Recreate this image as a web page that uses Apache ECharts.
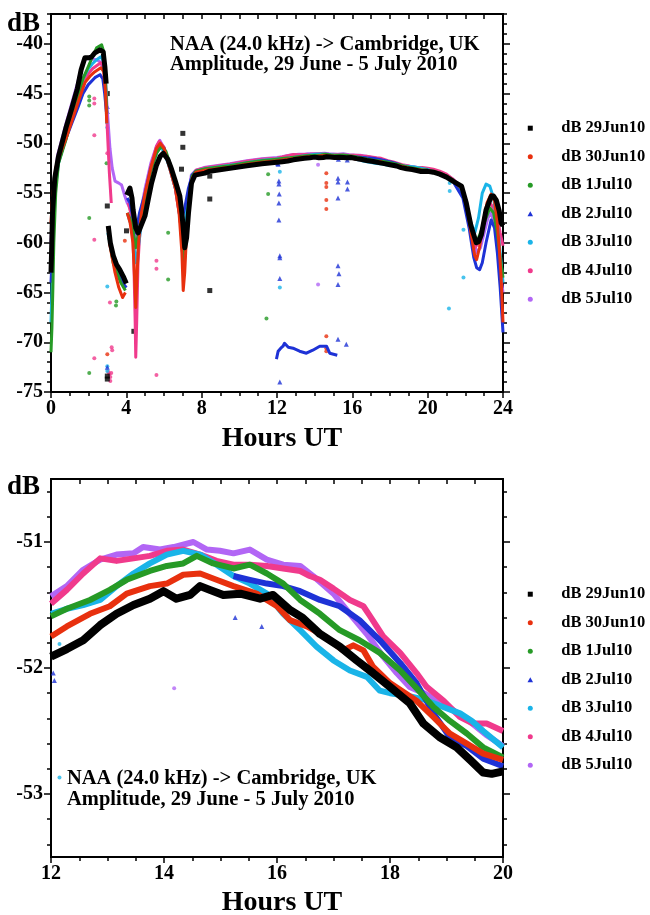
<!DOCTYPE html>
<html><head><meta charset="utf-8">
<script src="https://cdn.jsdelivr.net/npm/echarts@6/dist/echarts.min.js"></script>
<style>html,body{margin:0;padding:0;background:#fff}#c{width:650px;height:915px}</style>
</head><body><div id="c"></div>
<script>
// ---------- names / colours ----------
const names = ['dB 29Jun10','dB 30Jun10','dB 1Jul10','dB 2Jul10','dB 3Jul10','dB 4Jul10','dB 5Jul10'];
const colors = ['#000000','#e8300e','#269a26','#1e32d6','#1ab4e8','#f03a8c','#b266f5'];

// ---------- tick labels ----------
const xTicksTopMajor = [0,4,8,12,16,20,24];
const yTicksTopMajor = [-75,-70,-65,-60,-55,-50,-45,-40];
const xTicksBotMajor = [12,14,16,18,20];
const yTicksBotMajor = [-53,-52,-51];

// ---------- 29 Jun (black) ----------
const jun29Early = [[0.0,-63.0],[0.03,-61.0],[0.08,-57.0],[0.2,-53.5],[0.39,-51.4],[0.8,-48.4],[1.1,-46.5],[1.4,-44.5],[1.6,-42.6],[1.8,-41.4],[2.0,-41.4],[2.16,-41.3],[2.33,-40.9],[2.6,-40.6],[2.77,-40.8],[2.86,-42.3],[2.93,-44.0],[2.98,null],[3.04,-58.3],[3.15,-60.0],[3.31,-61.3],[3.48,-62.2],[3.65,-62.7],[3.84,-63.4],[4.0,-64.1],[4.01,null],[4.02,-55.2],[4.19,-54.5],[4.3,-55.5],[4.36,-56.7],[4.5,-58.5],[4.63,-59.0],[4.8,-58.2],[4.99,-57.3],[5.2,-55.3],[5.34,-54.0],[5.6,-52.2],[5.8,-51.3],[5.96,-51.0],[6.2,-51.6],[6.4,-52.6],[6.6,-53.8],[6.84,-55.3],[6.95,-57.0],[7.02,-58.5],[7.1,-60.5],[7.2,-59.5],[7.3,-57.0],[7.46,-54.0],[7.64,-53.2],[8.17,-53.0],[8.43,-52.8],[9.5,-52.5],[10.4,-52.25],[11.2,-52.05]];
const jun29Mid = [[12.0,-51.91],[12.28,-51.85],[12.57,-51.78],[12.87,-51.66],[13.16,-51.57],[13.46,-51.5],[13.75,-51.45],[13.99,-51.39],[14.22,-51.45],[14.46,-51.42],[14.64,-51.35],[14.81,-51.38],[15.05,-51.42],[15.35,-51.41],[15.7,-51.45],[15.93,-51.42],[16.23,-51.54],[16.45,-51.6],[16.76,-51.73],[17.11,-51.83],[17.41,-51.94],[17.7,-52.04],[18.0,-52.15],[18.35,-52.28],[18.59,-52.44],[18.88,-52.55],[19.18,-52.63],[19.42,-52.73],[19.65,-52.83],[19.8,-52.84],[20.0,-52.82]];
const jun29Late = [[20.3,-52.9],[20.64,-53.1],[21.0,-53.4],[21.34,-53.8],[21.8,-54.3],[22.05,-56.0],[22.3,-58.3],[22.58,-60.0],[22.7,-59.9],[22.85,-59.2],[23.1,-56.7],[23.38,-55.3],[23.5,-55.3],[23.64,-55.7],[23.8,-56.8],[23.9,-58.0],[24.0,-58.3]];
const jun29Odd = [[2.99,-45.0],[2.99,-56.3],[2.99,-73.4],[2.99,-73.7],[4.01,-58.8],[4.4,-68.9],[7.0,-49.0],[7.0,-50.4],[6.93,-52.6],[8.43,-53.3],[8.43,-55.6],[8.43,-64.8]];

// ---------- 30 Jun (red) ----------
const jun30Early = [[0.0,-58.0],[0.08,-55.5],[0.25,-52.5],[0.5,-51.0],[0.8,-49.5],[1.1,-47.8],[1.45,-45.8],[1.8,-43.9],[2.1,-43.2],[2.33,-42.8],[2.65,-42.4],[2.8,-42.8],[2.9,-45.0],[2.96,-48.0],[3.0,null],[3.1,-60.0],[3.4,-63.0],[3.6,-64.5],[3.8,-65.5],[3.95,-65.0],[4.0,null],[4.05,-57.0],[4.2,-58.0],[4.35,-60.0],[4.45,-64.0],[4.5,-66.5],[4.55,-64.0],[4.65,-60.0],[4.8,-57.0],[5.0,-55.0],[5.3,-52.5],[5.6,-50.5],[5.8,-50.0],[6.0,-50.5],[6.3,-52.5],[6.6,-54.5],[6.8,-57.0],[6.95,-61.0],[7.02,-64.8],[7.1,-63.0],[7.2,-59.0],[7.35,-55.5],[7.5,-53.5],[7.7,-52.9],[8.2,-52.7],[9.5,-52.4],[10.4,-52.1],[11.2,-51.9]];
const jun30Mid = [[12.0,-51.75],[12.28,-51.67],[12.69,-51.57],[13.04,-51.51],[13.34,-51.41],[13.75,-51.35],[14.05,-51.33],[14.34,-51.26],[14.64,-51.25],[14.93,-51.3],[15.23,-51.35],[15.64,-51.41],[16.0,-51.51],[16.23,-51.62],[16.53,-51.67],[16.85,-51.75],[17.17,-51.86],[17.35,-51.82],[17.53,-51.86],[17.7,-51.99],[18.0,-52.12],[18.47,-52.26],[18.77,-52.39],[19.06,-52.52],[19.36,-52.6],[19.65,-52.68],[20.0,-52.73]];
const jun30Late = [[20.3,-52.85],[20.64,-53.0],[21.0,-53.3],[21.34,-53.7],[21.8,-54.5],[22.05,-56.0],[22.3,-59.0],[22.5,-61.3],[22.6,-61.7],[22.75,-60.5],[22.95,-58.0],[23.15,-56.0],[23.37,-55.1],[23.55,-55.8],[23.7,-58.0],[23.8,-60.5],[23.9,-63.5],[24.0,-68.0]];
const jun30Odd = [[2.99,-71.2],[3.92,-59.8],[14.62,-53.0],[14.62,-54.0],[14.62,-54.4],[14.62,-55.7],[14.62,-56.6],[14.62,-69.4],[14.62,-70.6],[14.62,-70.9]];

// ---------- 1 Jul (green) ----------
const jul1Early = [[0.0,-71.0],[0.05,-68.5],[0.1,-64.5],[0.15,-60.0],[0.25,-55.0],[0.4,-52.0],[0.8,-49.6],[1.1,-47.5],[1.45,-45.3],[1.7,-43.5],[1.98,-42.3],[2.2,-41.3],[2.42,-40.4],[2.69,-40.1],[2.8,-40.8],[2.9,-44.0],[2.96,-47.0],[3.0,null],[3.08,-59.5],[3.3,-62.0],[3.5,-63.0],[3.7,-64.0],[3.95,-64.8],[4.0,null],[4.05,-57.0],[4.3,-58.0],[4.5,-60.5],[4.7,-58.5],[5.0,-55.5],[5.3,-52.8],[5.6,-51.0],[5.85,-50.3],[6.1,-50.8],[6.4,-52.5],[6.7,-55.0],[6.9,-58.5],[7.05,-63.0],[7.15,-60.0],[7.3,-56.0],[7.5,-53.3],[7.7,-52.8],[8.2,-52.55],[9.5,-52.25],[10.4,-51.95],[11.2,-51.75]];
const jul1Mid = [[12.0,-51.59],[12.28,-51.53],[12.69,-51.46],[13.04,-51.38],[13.34,-51.3],[13.75,-51.23],[14.05,-51.19],[14.34,-51.17],[14.58,-51.11],[14.87,-51.17],[15.23,-51.21],[15.52,-51.18],[15.82,-51.25],[16.11,-51.33],[16.41,-51.46],[16.76,-51.57],[17.11,-51.7],[17.46,-51.78],[17.82,-51.88],[18.18,-52.02],[18.47,-52.16],[18.77,-52.31],[19.06,-52.42],[19.36,-52.52],[19.65,-52.63],[20.0,-52.71]];
const jul1Late = [[20.3,-52.8],[20.64,-53.0],[21.0,-53.3],[21.34,-53.7],[21.8,-54.5],[22.05,-55.8],[22.3,-58.5],[22.5,-60.0],[22.7,-59.5],[22.9,-58.5],[23.1,-57.5],[23.3,-56.5],[23.5,-57.0],[23.7,-59.0],[23.85,-61.5],[24.0,-63.5]];
const jul1Odd = [[2.03,-45.3],[2.03,-45.7],[2.03,-46.2],[2.03,-57.5],[2.03,-73.1],[2.95,-52.0],[3.47,-65.9],[3.45,-66.3],[6.22,-59.0],[6.22,-63.7],[11.44,-67.6],[11.53,-53.1],[11.53,-55.1]];

// ---------- 2 Jul (blue) ----------
const jul2Early = [[0.0,-64.0],[0.05,-62.0],[0.1,-58.0],[0.2,-54.0],[0.4,-51.8],[0.8,-49.5],[1.1,-48.0],[1.45,-46.3],[1.7,-45.0],[1.98,-44.1],[2.33,-43.4],[2.6,-43.1],[2.75,-43.5],[2.85,-45.0],[2.95,-47.0],[3.0,null],[3.1,-60.0],[3.4,-62.0],[3.6,-63.0],[3.8,-64.0],[4.0,-64.5],[4.01,null],[4.05,-55.5],[4.2,-56.0],[4.4,-58.0],[4.5,-59.0],[4.7,-57.0],[5.0,-55.0],[5.3,-52.5],[5.6,-50.8],[5.8,-50.2],[6.0,-50.5],[6.3,-52.2],[6.6,-54.0],[6.85,-56.0],[7.0,-57.2],[7.1,-56.5],[7.3,-54.5],[7.5,-53.2],[7.7,-52.8],[8.2,-52.6],[9.5,-52.3],[10.4,-52.0],[11.2,-51.8],[11.9,-51.95],[11.94,null],[11.97,-71.7],[12.06,-70.9],[12.2,-70.6],[12.32,-70.4],[12.4,-70.1],[12.6,-70.5],[12.85,-70.6],[13.2,-70.9],[13.56,-71.1],[13.9,-70.8],[14.27,-70.4],[14.63,-70.4],[14.8,-71.1],[15.0,-71.2],[15.2,-71.3],[15.21,null]];
const jul2Mid = [[15.23,-51.27],[15.52,-51.3],[15.82,-51.33],[16.11,-51.35],[16.41,-51.39],[16.76,-51.46],[17.11,-51.51],[17.46,-51.62],[17.82,-51.78],[18.18,-51.96],[18.47,-52.12],[18.77,-52.36],[19.06,-52.55],[19.36,-52.62],[19.65,-52.72],[20.0,-52.78]];
const jul2Late = [[20.3,-52.85],[20.64,-53.05],[21.0,-53.4],[21.34,-53.8],[21.87,-55.5],[22.2,-58.5],[22.45,-61.5],[22.6,-62.5],[22.76,-62.7],[22.9,-62.0],[23.1,-60.0],[23.37,-57.7],[23.55,-58.5],[23.7,-61.0],[23.85,-64.5],[24.0,-69.0]];
const jul2Odd = [[2.99,-46.3],[2.99,-46.8],[2.99,-72.5],[12.04,-52.04],[12.06,-52.1],[12.1,-53.8],[12.1,-54.1],[12.12,-55.1],[12.1,-56.0],[12.1,-57.7],[12.15,-61.3],[12.15,-61.5],[12.15,-63.6],[12.15,-74.0],[15.24,-53.5],[15.24,-53.9],[15.74,-53.9],[15.74,-54.6],[15.24,-55.5],[15.24,-62.3],[15.29,-63.1],[15.24,-64.2],[15.24,-69.7],[15.68,-70.2],[15.26,-51.6],[15.73,-51.67]];

// ---------- 3 Jul (cyan) ----------
const jul3Early = [[0.0,-68.0],[0.05,-65.0],[0.1,-60.0],[0.2,-55.0],[0.4,-52.0],[0.8,-49.3],[1.1,-47.2],[1.45,-45.0],[1.7,-43.5],[1.98,-42.5],[2.2,-42.0],[2.42,-41.6],[2.65,-41.3],[2.8,-41.8],[2.9,-44.0],[2.96,-48.0],[3.0,null],[3.02,-59.0],[3.3,-61.5],[3.6,-62.8],[3.9,-64.0],[4.0,null],[4.05,-57.0],[4.3,-58.5],[4.5,-62.0],[4.6,-61.0],[4.8,-58.0],[5.0,-55.5],[5.3,-52.8],[5.6,-51.0],[5.8,-50.4],[6.0,-50.8],[6.3,-52.5],[6.6,-54.5],[6.85,-57.0],[7.0,-60.0],[7.1,-58.5],[7.3,-55.0],[7.5,-53.2],[7.7,-52.8],[8.2,-52.55],[9.5,-52.2],[10.4,-51.95],[11.2,-51.7]];
const jul3Mid = [[12.0,-51.57],[12.28,-51.53],[12.57,-51.5],[12.87,-51.46],[13.16,-51.35],[13.46,-51.25],[13.75,-51.17],[14.05,-51.1],[14.34,-51.07],[14.64,-51.1],[14.93,-51.18],[15.23,-51.27],[15.52,-51.33],[15.82,-51.41],[16.11,-51.57],[16.41,-51.7],[16.7,-51.83],[17.0,-51.94],[17.29,-52.02],[17.59,-52.07],[17.82,-52.18],[18.0,-52.2],[18.3,-52.22],[18.6,-52.25],[19.0,-52.32],[19.24,-52.36],[19.45,-52.42],[19.65,-52.5],[20.0,-52.63]];
const jul3Late = [[20.3,-52.85],[20.64,-53.0],[21.0,-53.3],[21.34,-53.7],[21.87,-55.0],[22.1,-56.5],[22.3,-58.0],[22.5,-59.0],[22.7,-57.5],[22.9,-55.0],[23.1,-54.1],[23.3,-54.3],[23.5,-55.5],[23.7,-58.0],[23.85,-61.0],[24.0,-64.0]];
const jul3Odd = [[2.99,-48.4],[2.99,-64.4],[2.99,-72.4],[2.99,-72.9],[12.15,-52.87],[12.15,-51.81],[12.15,-64.5],[21.17,-54.0],[21.17,-54.8],[21.13,-66.6],[21.9,-58.7],[21.9,-63.5]];

// ---------- 4 Jul (pink) ----------
const jul4Early = [[0.0,-62.0],[0.05,-60.0],[0.15,-55.0],[0.35,-52.0],[0.8,-49.3],[1.1,-47.3],[1.45,-45.5],[1.7,-44.2],[1.98,-43.0],[2.2,-42.5],[2.42,-42.2],[2.65,-41.9],[2.8,-42.3],[2.9,-44.5],[3.0,-49.0],[3.1,-53.0],[3.2,-56.0],[3.25,null],[4.1,-56.0],[4.3,-57.5],[4.4,-62.0],[4.47,-68.0],[4.5,-71.5],[4.55,-68.0],[4.62,-62.0],[4.75,-58.0],[5.0,-55.0],[5.3,-52.3],[5.6,-50.3],[5.75,-49.8],[6.0,-50.4],[6.3,-52.3],[6.6,-54.5],[6.85,-57.5],[7.0,-61.0],[7.05,-62.5],[7.15,-60.0],[7.3,-55.8],[7.5,-53.2],[7.7,-52.7],[8.2,-52.45],[9.5,-52.1],[10.4,-51.8],[11.2,-51.6]];
const jul4Mid = [[12.0,-51.49],[12.28,-51.38],[12.57,-51.25],[12.87,-51.13],[13.16,-51.15],[13.46,-51.13],[13.75,-51.11],[14.05,-51.07],[14.34,-51.06],[14.64,-51.1],[14.93,-51.15],[15.23,-51.18],[15.52,-51.18],[15.82,-51.19],[16.11,-51.21],[16.41,-51.23],[16.58,-51.27],[16.76,-51.3],[17.0,-51.37],[17.29,-51.46],[17.53,-51.51],[17.65,-51.59],[17.88,-51.75],[18.18,-51.88],[18.47,-52.04],[18.65,-52.15],[18.95,-52.26],[19.24,-52.39],[19.47,-52.44],[19.71,-52.44],[20.0,-52.5]];
const jul4Late = [[20.3,-52.6],[20.64,-52.8],[21.0,-53.1],[21.34,-53.6],[21.8,-54.5],[22.05,-56.0],[22.3,-58.5],[22.5,-60.5],[22.7,-60.0],[22.9,-58.5],[23.1,-57.0],[23.3,-56.0],[23.5,-56.5],[23.7,-57.5],[23.85,-59.0],[24.0,-60.3]];
const jul4Odd = [[2.3,-45.5],[2.3,-46.0],[2.3,-49.2],[2.3,-59.7],[2.3,-71.6],[2.99,-51.0],[3.13,-66.0],[3.22,-70.5],[3.25,-70.8],[3.05,-73.0],[3.1,-73.2],[3.15,-73.5],[3.2,-73.1],[3.15,-73.9],[5.6,-61.8],[5.6,-62.6],[5.6,-73.3]];

// ---------- 5 Jul (purple) ----------
const jul5Early = [[0.0,-60.0],[0.05,-58.0],[0.15,-54.5],[0.35,-51.2],[0.8,-48.0],[1.1,-46.0],[1.4,-44.0],[1.6,-42.5],[1.8,-41.5],[2.1,-41.5],[2.4,-41.6],[2.6,-41.8],[2.8,-42.5],[2.9,-44.0],[3.0,-47.0],[3.13,-50.5],[3.25,-52.5],[3.4,-53.8],[3.6,-54.0],[3.75,-54.2],[3.92,-55.3],[4.05,-56.0],[4.2,-56.5],[4.4,-58.5],[4.5,-60.0],[4.6,-59.0],[4.8,-56.5],[5.0,-54.5],[5.3,-52.0],[5.6,-50.3],[5.78,-49.7],[6.0,-50.5],[6.3,-52.5],[6.6,-54.5],[6.85,-57.5],[7.0,-60.5],[7.1,-59.5],[7.25,-56.0],[7.45,-53.2],[7.7,-52.7],[8.2,-52.4],[9.5,-52.05],[10.4,-51.75],[11.2,-51.55]];
const jul5Mid = [[12.0,-51.43],[12.28,-51.35],[12.57,-51.22],[12.87,-51.14],[13.16,-51.1],[13.46,-51.09],[13.63,-51.04],[13.93,-51.06],[14.17,-51.04],[14.52,-51.0],[14.76,-51.06],[14.99,-51.07],[15.23,-51.09],[15.52,-51.06],[15.82,-51.14],[16.11,-51.18],[16.41,-51.19],[16.64,-51.27],[17.0,-51.41],[17.29,-51.57],[17.59,-51.73],[17.88,-51.91],[18.12,-52.04],[18.35,-52.15],[18.6,-52.2],[19.0,-52.3],[19.4,-52.42],[19.7,-52.53],[20.0,-52.62]];
const jul5Late = [[20.3,-52.7],[20.64,-52.9],[21.0,-53.2],[21.34,-53.6],[21.8,-54.5],[22.05,-56.0],[22.3,-58.5],[22.6,-61.0],[22.8,-60.5],[23.0,-59.0],[23.2,-57.5],[23.35,-57.0],[23.55,-58.0],[23.7,-60.0],[23.85,-63.0],[24.0,-65.0]];
const jul5Odd = [[0.04,-60.0],[14.18,-52.16],[14.18,-64.2]];

// ---------- assemble ----------
const early = [jun29Early, jun30Early, jul1Early, jul2Early, jul3Early, jul4Early, jul5Early];
const mid   = [jun29Mid, jun30Mid, jul1Mid, jul2Mid, jul3Mid, jul4Mid, jul5Mid];
const late  = [jun29Late, jun30Late, jul1Late, jul2Late, jul3Late, jul4Late, jul5Late];
const odd   = [jun29Odd, jun30Odd, jul1Odd, jul2Odd, jul3Odd, jul4Odd, jul5Odd];

const FONT = 'Liberation Serif';
const SQ = 'path://M0,0L10,0L10,10L0,10Z';
const TRI = 'path://M5,0L10,9L0,9Z';
const CIR = 'circle';
const symbols = [SQ, CIR, CIR, TRI, CIR, CIR, CIR];
const oddSize = [5, 4, 4, 5, 4, 4, 4];

const xMinorTop = []; for (let h = 0; h <= 24; h++) xMinorTop.push(h);
const yMinorTop = []; for (let v = -75; v <= -37; v++) yMinorTop.push(v);
const xMinorBot = []; for (let h = 12; h <= 20.001; h += 0.5) xMinorBot.push(+h.toFixed(1));
const yMinorBot = []; for (let v = -53.4; v <= -50.55; v += 0.2) yMinorBot.push(+v.toFixed(1));

const lab = {fontFamily: FONT, fontWeight: 'bold', fontSize: 20, color: '#000'};
const axLine = {show: true, onZero: false, lineStyle: {color: '#000', width: 2}};
function ax(o) {
  return Object.assign({type: 'value', splitLine: {show: false}, axisLine: axLine}, o);
}
function tick(vals, len, inside) {
  return {show: true, customValues: vals, length: len, inside: !!inside, lineStyle: {color: '#000', width: 1.5}};
}
const noLab = {show: false};

const xAxis = [
  ax({gridIndex: 0, min: 0, max: 24, position: 'bottom', axisTick: tick(xTicksTopMajor, 6), axisLabel: Object.assign({customValues: xTicksTopMajor, margin: 7}, lab)}),
  ax({gridIndex: 0, min: 0, max: 24, position: 'bottom', axisTick: tick(xMinorTop, 4), axisLabel: noLab}),
  ax({gridIndex: 0, min: 0, max: 24, position: 'top', axisTick: tick(xMinorTop, 5, true), axisLabel: noLab}),
  ax({gridIndex: 1, min: 12, max: 20, position: 'bottom', axisTick: tick(xTicksBotMajor, 6), axisLabel: Object.assign({customValues: xTicksBotMajor, margin: 7}, lab)}),
  ax({gridIndex: 1, min: 12, max: 20, position: 'bottom', axisTick: tick(xMinorBot, 4), axisLabel: noLab}),
  ax({gridIndex: 1, min: 12, max: 20, position: 'top', axisTick: tick(xMinorBot, 5, true), axisLabel: noLab})
];
const yAxis = [
  ax({gridIndex: 0, min: -75, max: -37, position: 'left', axisTick: tick(yTicksTopMajor, 7), axisLabel: Object.assign({customValues: yTicksTopMajor, margin: 8}, lab)}),
  ax({gridIndex: 0, min: -75, max: -37, position: 'left', axisTick: tick(yMinorTop, 4), axisLabel: noLab}),
  ax({gridIndex: 0, min: -75, max: -37, position: 'right', axisTick: tick(yTicksTopMajor, 7), axisLabel: noLab}),
  ax({gridIndex: 0, min: -75, max: -37, position: 'right', axisTick: tick(yMinorTop, 4), axisLabel: noLab}),
  ax({gridIndex: 1, min: -53.5, max: -50.5, position: 'left', axisTick: tick(yTicksBotMajor, 7), axisLabel: Object.assign({customValues: yTicksBotMajor, margin: 8}, lab)}),
  ax({gridIndex: 1, min: -53.5, max: -50.5, position: 'left', axisTick: tick(yMinorBot, 4), axisLabel: noLab}),
  ax({gridIndex: 1, min: -53.5, max: -50.5, position: 'right', axisTick: tick(yTicksBotMajor, 7), axisLabel: noLab}),
  ax({gridIndex: 1, min: -53.5, max: -50.5, position: 'right', axisTick: tick(yMinorBot, 4), axisLabel: noLab})
];

const drawOrder = [6, 5, 4, 3, 2, 1, 0];
const series = [];
drawOrder.forEach(i => {
  series.push({
    type: 'line', name: names[i], xAxisIndex: 0, yAxisIndex: 0,
    data: early[i].concat(mid[i], late[i]), showSymbol: false, symbol: 'none',
    lineStyle: {color: colors[i], width: i === 0 ? 5 : 3, join: 'round'},
    itemStyle: {color: colors[i]}, connectNulls: false, silent: true, animation: false
  });
  series.push({
    type: 'scatter', name: names[i], xAxisIndex: 0, yAxisIndex: 0,
    data: odd[i], symbol: symbols[i], symbolSize: oddSize[i],
    itemStyle: {color: colors[i]}, silent: true, animation: false
  });
});
drawOrder.forEach(i => {
  series.push({
    type: 'line', name: names[i], xAxisIndex: 3, yAxisIndex: 4,
    data: mid[i], showSymbol: false, symbol: 'none',
    lineStyle: {color: colors[i], width: i === 0 ? 8 : 6, join: 'round'},
    itemStyle: {color: colors[i]}, silent: true, animation: false, clip: true
  });
  series.push({
    type: 'scatter', name: names[i], xAxisIndex: 3, yAxisIndex: 4,
    data: odd[i].filter(p => p[0] >= 12 && p[0] <= 20 && p[1] > -52.95 && p[1] <= -50.5),
    symbol: symbols[i], symbolSize: oddSize[i],
    itemStyle: {color: colors[i]}, silent: true, animation: false, clip: true
  });
});

function legend(top) {
  return {
    orient: 'vertical', left: 527.5, top: top, padding: 0, itemWidth: 52, itemHeight: 5, itemGap: 10.5,
    selectedMode: false, symbolKeepAspect: true,
    textStyle: {fontFamily: FONT, fontWeight: 'bold', fontSize: 16.5, color: '#000', lineHeight: 18, width: 86, overflow: 'none'},
    data: names.map((n, i) => ({name: n, icon: symbols[i], itemStyle: {color: colors[i]}}))
  };
}

function txt(x, y, s, size, align) {
  return {type: 'text', x: x, y: y, silent: true,
    style: {text: s, fontFamily: FONT, fontWeight: 'bold', fontSize: size, fill: '#000',
      align: align || 'left', verticalAlign: 'middle'}};
}

const option = {
  backgroundColor: '#fff',
  animation: false,
  grid: [
    {left: 51, top: 14, width: 452, height: 378, containLabel: false},
    {left: 51, top: 479, width: 452, height: 378, containLabel: false}
  ],
  xAxis: xAxis,
  yAxis: yAxis,
  legend: [legend(119.2), legend(585.2)],
  series: series,
  graphic: [
    txt(7, 24, 'dB', 27),
    txt(7, 487, 'dB', 27),
    txt(282, 439, 'Hours UT', 28, 'center'),
    txt(282, 903, 'Hours UT', 28, 'center'),
    txt(170, 45, 'NAA (24.0 kHz) -> Cambridge, UK', 20.5),
    txt(170, 65, 'Amplitude, 29 June - 5 July 2010', 20.5),
    txt(67, 778.5, 'NAA (24.0 kHz) -> Cambridge, UK', 20.5),
    txt(67, 799.5, 'Amplitude, 29 June - 5 July 2010', 20.5)
  ]
};

const chart = echarts.init(document.getElementById('c'), null, {renderer: 'canvas'});
chart.setOption(option);
</script></body></html>
